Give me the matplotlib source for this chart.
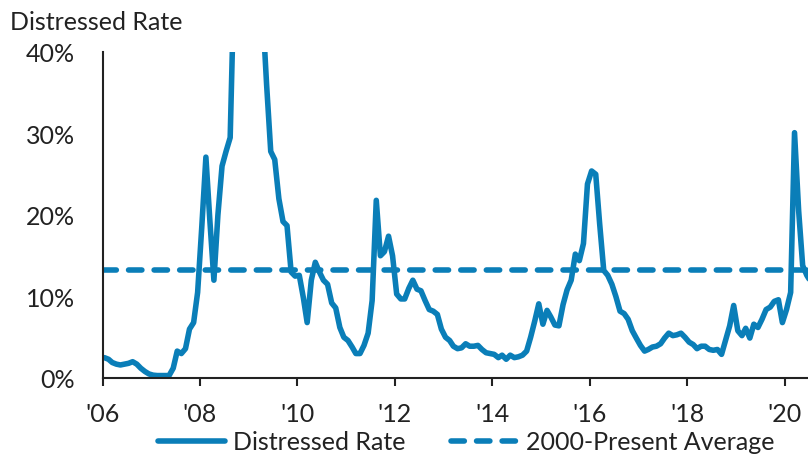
import pandas as pd
import matplotlib
matplotlib.use("Agg")
import matplotlib.pyplot as plt
import matplotlib.dates as mdates
from matplotlib.lines import Line2D

# monthly distressed rate (%), Jan 2006 .. Jul 2020
rate_2006 = [2.5, 2.3, 1.9, 1.7, 1.6, 1.7, 1.8, 2.0, 1.7, 1.2, 0.8, 0.5]
rate_2007 = [0.35, 0.3, 0.3, 0.3, 0.3, 1.2, 3.3, 3.0, 3.6, 6.0, 6.8, 10.5]
rate_2008 = [18.5, 27.1, 19.5, 12.0, 20.0, 26.0, 27.8, 29.5, 50.0, 65.0, 75.0, 80.0]
rate_2009 = [78.0, 72.0, 62.0, 45.0, 36.0, 27.8, 26.8, 22.0, 19.2, 18.7, 13.0, 12.5]
rate_2010 = [12.6, 9.8, 6.8, 12.0, 14.2, 13.0, 12.0, 11.5, 9.2, 8.6, 6.2, 5.0]
rate_2011 = [4.6, 3.8, 3.0, 3.0, 4.0, 5.5, 9.5, 21.8, 15.0, 15.5, 17.4, 15.0]
rate_2012 = [10.3, 9.7, 9.7, 11.0, 12.0, 10.9, 10.7, 9.5, 8.4, 8.2, 7.8, 6.0]
rate_2013 = [5.0, 4.6, 3.9, 3.6, 3.7, 4.2, 3.9, 3.9, 4.0, 3.5, 3.1, 3.0]
rate_2014 = [2.9, 2.5, 2.8, 2.3, 2.8, 2.5, 2.6, 2.8, 3.3, 5.0, 7.0, 9.1]
rate_2015 = [6.6, 8.3, 7.5, 6.5, 6.4, 9.0, 10.8, 12.0, 15.2, 14.4, 16.5, 23.8]
rate_2016 = [25.4, 25.0, 19.0, 13.2, 12.6, 11.5, 10.0, 8.2, 7.9, 7.2, 5.8, 4.9]
rate_2017 = [4.0, 3.3, 3.5, 3.8, 3.9, 4.2, 4.9, 5.5, 5.2, 5.3, 5.5, 5.0]
rate_2018 = [4.4, 4.1, 3.6, 3.9, 3.9, 3.5, 3.4, 3.5, 2.9, 4.6, 6.4, 8.9]
rate_2019 = [5.8, 5.2, 6.1, 4.9, 6.6, 6.2, 7.2, 8.4, 8.7, 9.4, 9.6, 6.8]
rate_2020 = [8.4, 10.5, 30.1, 20.5, 13.8, 12.6, 11.8]

average_2000_present = 13.2

y_ticks = [0, 10, 20, 30, 40]
y_labels = ["0%", "10%", "20%", "30%", "40%"]
x_tick_years = [2006, 2008, 2010, 2012, 2014, 2016, 2018, 2020]

rates = (rate_2006 + rate_2007 + rate_2008 + rate_2009 + rate_2010 + rate_2011
         + rate_2012 + rate_2013 + rate_2014 + rate_2015 + rate_2016 + rate_2017
         + rate_2018 + rate_2019 + rate_2020)
dates = pd.date_range("2006-01-01", periods=len(rates), freq="MS") + pd.Timedelta(days=14)

color = "#0A7EB8"
txt = "#222222"
fs = 18
plt.rcParams["font.family"] = ["Lato", "DejaVu Sans"]

fig = plt.figure(figsize=(8.08, 4.56), dpi=100)
ax = fig.add_axes([102.5 / 808, 1 - 379 / 456, 1 - 102.5 / 808, (379 - 53) / 456])

ax.plot(dates, rates, color=color, lw=4.0, solid_joinstyle="round",
        solid_capstyle="round", label="Distressed Rate")
ax.axhline(average_2000_present, color=color, lw=4.0, linestyle=(0, (2.4, 2.2)),
           dash_capstyle="round", label="2000-Present Average")

ax.set_ylim(0, 40)
ax.set_xlim(pd.Timestamp("2006-01-01"), pd.Timestamp("2020-06-24"))
ax.set_yticks(y_ticks)
ax.set_yticklabels(y_labels)
ax.set_xticks([pd.Timestamp(f"{y}-01-01") for y in x_tick_years])
ax.xaxis.set_major_formatter(mdates.DateFormatter("'%y"))

for s in ["top", "right"]:
    ax.spines[s].set_visible(False)
for s in ["left", "bottom"]:
    ax.spines[s].set_color(txt)
    ax.spines[s].set_linewidth(1.5)

ax.tick_params(axis="y", length=0, pad=20, labelsize=fs, colors=txt)
ax.tick_params(axis="x", length=6, width=1.5, direction="out", pad=11,
               labelsize=fs, colors=txt)

fig.text(10 / 808, 1 - 22 / 456, "Distressed Rate", fontsize=fs, color=txt,
         va="center", ha="left")

handles = [Line2D([], [], color=color, lw=4.0, solid_capstyle="round"),
           Line2D([], [], color=color, lw=4.0, linestyle=(0, (2.4, 2.2)),
                  dash_capstyle="round")]
fig.legend(handles, ["Distressed Rate", "2000-Present Average"], loc="center",
           bbox_to_anchor=(0.577, 1 - 443 / 456), ncol=2, frameon=False,
           fontsize=fs, handlelength=2.7, columnspacing=1.8, handletextpad=0.32,
           labelcolor=txt)

fig.savefig("out.png", dpi=100)
